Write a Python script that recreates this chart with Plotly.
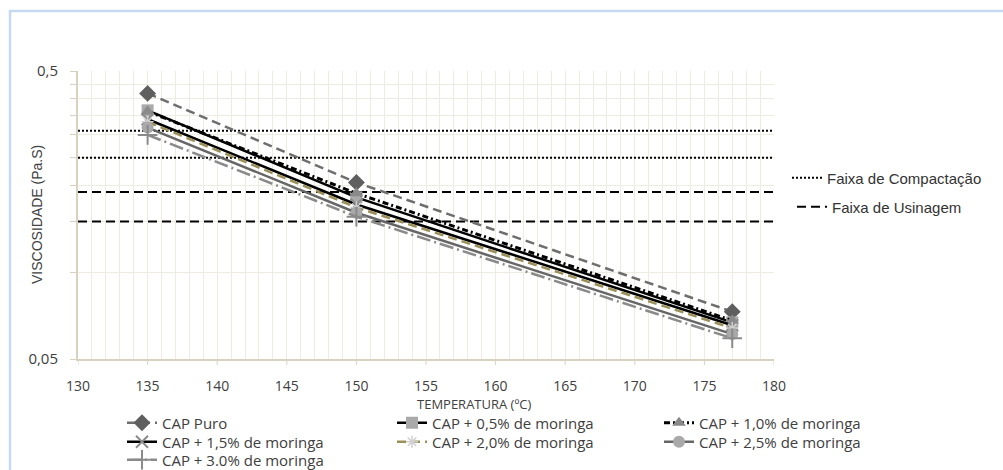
import plotly.graph_objects as go

# ---- data ----
temperatures = [135, 150, 177]
cap_puro = [0.418, 0.205, 0.073]
cap_05 = [0.365, 0.182, 0.067]
cap_10 = [0.362, 0.188, 0.068]
cap_15 = [0.340, 0.172, 0.0655]
cap_20 = [0.333, 0.168, 0.064]
cap_25 = [0.318, 0.161, 0.061]
cap_30 = [0.300, 0.156, 0.059]

faixa_x = [130, 180]
compactacao = [0.31, 0.25]
usinagem = [0.19, 0.15]

x_ticks = [130, 135, 140, 145, 150, 155, 160, 165, 170, 175, 180]
y_ticks = [0.05, 0.5]
y_ticktext = ["0,05", "0,5"]
y_grid = [0.1, 0.15, 0.2, 0.25, 0.3, 0.35, 0.4, 0.45]

# ---- layout geometry (pixels) ----
W, H = 1003, 470
ML, MR, MT, MB = 78, 229, 71, 111
PW, PH = W - ML - MR, H - MT - MB


def px_x(p):
    return (p - ML) / PW


def px_y(p):
    return (H - MB - p) / PH


series = [
    ("CAP Puro", cap_puro, dict(color="#6e6e6e", width=2.5, dash="9px,5px"),
     dict(symbol="diamond", size=13, color="#5f5f5f")),
    ("CAP + 0,5% de moringa", cap_05, dict(color="#000000", width=2.5, dash="solid"),
     dict(symbol="square", size=12, color="#a9a9a9")),
    ("CAP + 1,0% de moringa", cap_10, dict(color="#000000", width=3, dash="6px,3px,2px,3px"),
     dict(symbol="triangle-up", size=12, color="#8a8a8a")),
    ("CAP + 1,5% de moringa", cap_15, dict(color="#000000", width=2.5, dash="solid"),
     dict(symbol="x-thin", size=12, color="#8c8c8c", line=dict(color="#8c8c8c", width=2))),
    ("CAP + 2,0% de moringa", cap_20, dict(color="#9b8f5a", width=2.5, dash="9px,5px"),
     dict(symbol="asterisk", size=10, color="#d0d0d0", line=dict(color="#d0d0d0", width=1.5))),
    ("CAP + 2,5% de moringa", cap_25, dict(color="#666666", width=2.5, dash="solid"),
     dict(symbol="circle", size=12, color="#a9a9a9")),
    ("CAP + 3.0% de moringa", cap_30, dict(color="#8a8a8a", width=2.5, dash="14px,4px,2px,4px"),
     dict(symbol="cross-thin", size=14, color="#8a8a8a", line=dict(color="#8a8a8a", width=2))),
]

# legend cell for each series: (text start x, row center y) in pixels
legend_cells = [(163, 423), (433, 423), (700, 423),
                (163, 442), (433, 442), (700, 442),
                (163, 460)]
TEXT_OFFSET = 41

fig = go.Figure()

legend_layouts = {}

# reference bands (legend on the right)
band_legends = [("legend8", "Faixa de Compactação", compactacao, "2px,2px", 828, 178),
                ("legend9", "Faixa de Usinagem", usinagem, "9px,5px", 833, 207)]
for lid, name, vals, dash, tx, ty in band_legends:
    for i, v in enumerate(vals):
        fig.add_trace(go.Scatter(
            x=faixa_x, y=[v, v], mode="lines",
            line=dict(color="black", width=2, dash=dash),
            name=name, legend=lid, showlegend=(i == 0), hoverinfo="skip"))
    legend_layouts[lid] = dict(
        x=px_x(tx - TEXT_OFFSET), xanchor="left", y=px_y(ty), yanchor="middle",
        orientation="v", bgcolor="rgba(0,0,0,0)",
        font=dict(family="Liberation Sans, Arial", size=15, color="#333333"))

for k, (name, vals, ln, mk) in enumerate(series):
    lid = "legend" if k == 0 else f"legend{k + 1}"
    fig.add_trace(go.Scatter(
        x=temperatures, y=vals, mode="lines+markers", name=name,
        line=ln, marker=mk, legend=lid))
    tx, ty = legend_cells[k]
    legend_layouts[lid] = dict(
        x=px_x(tx - TEXT_OFFSET), xanchor="left", y=px_y(ty), yanchor="middle",
        orientation="v", bgcolor="rgba(0,0,0,0)",
        font=dict(family="Open Sans", size=15, color="#404040"))

grid_c = "#eeebe0"
axis_c = "#d8d3c0"

# short visible tick marks under the x axis (labels are pushed down by a
# longer, transparent major tick)
x_tick_shapes = [dict(type="line", xref="x", yref="paper", x0=t, x1=t,
                      y0=0, y1=-6 / PH, line=dict(color=axis_c, width=1))
                 for t in x_ticks]

fig.update_layout(
    width=W, height=H,
    margin=dict(l=ML, r=MR, t=MT, b=MB, autoexpand=False),
    paper_bgcolor="white", plot_bgcolor="white",
    font=dict(family="Liberation Sans, Arial", color="#404040"),
    showlegend=True,
    shapes=[dict(type="rect", xref="paper", yref="paper",
                 x0=px_x(10), x1=px_x(1020), y0=px_y(490), y1=px_y(11),
                 line=dict(color="#c6d9f1", width=2.5), fillcolor="rgba(0,0,0,0)",
                 layer="below")] + x_tick_shapes,
    annotations=[
        dict(text="VISCOSIDADE (Pa.S)", textangle=-90, xref="paper", yref="paper",
             x=px_x(37), y=0.5, xanchor="center", yanchor="middle", showarrow=False,
             font=dict(family="Liberation Sans, Arial", size=14, color="#404040")),
        dict(text="TEMPERATURA (ºC)", xref="paper", yref="paper",
             x=px_x(474), y=px_y(404), xanchor="center", yanchor="middle",
             showarrow=False,
             font=dict(family="Open Sans", size=13, color="#404040")),
    ],
    **legend_layouts,
)

fig.update_xaxes(
    range=[130, 180], tickmode="array", tickvals=x_ticks,
    showgrid=True, gridcolor=grid_c, gridwidth=1,
    minor=dict(dtick=1, tick0=130, showgrid=True, gridcolor=grid_c, gridwidth=1),
    showline=True, linecolor=axis_c, linewidth=2,
    ticks="outside", ticklen=13, tickcolor="rgba(0,0,0,0)", tickwidth=1,
    tickfont=dict(family="Open Sans", size=14, color="#404040"),
    zeroline=False,
)
fig.update_yaxes(
    type="log", range=[-1.30103, -0.30103],
    tickmode="array", tickvals=y_ticks, ticktext=y_ticktext,
    showgrid=True, gridcolor=grid_c, gridwidth=1,
    minor=dict(tickmode="array", tickvals=y_grid, showgrid=True, gridcolor=grid_c,
               ticks="outside", ticklen=6, tickcolor=axis_c),
    showline=True, linecolor=axis_c, linewidth=2,
    ticks="outside", ticklen=6, tickcolor=axis_c,
    ticklabelstandoff=9,
    tickfont=dict(family="Open Sans", size=15, color="#404040"),
    zeroline=False,
)

fig.write_html("out.html", config={"displayModeBar": False},
               post_script="document.body.style.margin='0px';")
